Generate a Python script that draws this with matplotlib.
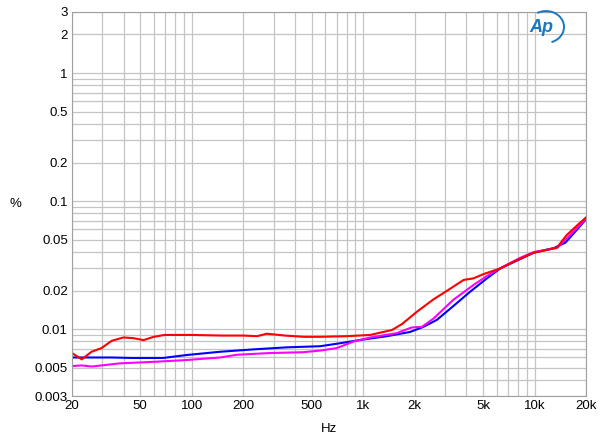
import matplotlib.pyplot as plt
from matplotlib.patches import Arc

plt.rcParams['font.family'] = ['Liberation Sans', 'DejaVu Sans']

# Red trace
red_hz = [20, 22.8, 26, 29.7, 34.1, 39.9, 45.5, 52.3, 59.9, 69.4, 100, 150, 200, 240, 274, 350, 450, 562,
          800, 1098, 1472, 1684, 2060, 2575, 3080, 3854, 4400, 5040, 6320, 7900, 9880, 11800, 13500,
          15400, 17600, 20000]
red_pct = [0.0065, 0.0058, 0.00665, 0.0071, 0.0081, 0.0086, 0.0085, 0.0082, 0.0087, 0.0090, 0.0090,
           0.0089, 0.0089, 0.0088, 0.0092, 0.0089, 0.0087, 0.0087,
           0.0088, 0.0090, 0.00984, 0.01095, 0.01368, 0.0171, 0.0199, 0.0242, 0.0249, 0.0269, 0.0298,
           0.0346, 0.0395, 0.0415, 0.0433, 0.0543, 0.0641, 0.0747]

# Blue trace
blue_hz = [20, 34, 45, 68, 93, 146, 228, 358, 562, 732, 960, 1374, 1880, 2240, 2690, 3350, 4210, 5270,
           6320, 9880, 13000, 15100, 17600, 20000]
blue_pct = [0.0060, 0.0060, 0.00595, 0.00595, 0.00627, 0.00665, 0.00694, 0.0072, 0.00735, 0.00775,
            0.00822, 0.0088, 0.0095, 0.0104, 0.0118, 0.0151, 0.0196, 0.0249, 0.0298, 0.0395, 0.043,
            0.0473, 0.0594, 0.0724]

# Magenta trace
mag_hz = [20, 22.8, 26, 29.7, 38, 60, 93, 146, 183, 284, 448, 562, 700, 880, 1098, 1570, 1920, 2200,
          2575, 3350, 4400, 5270, 6320, 8240, 9880, 13500, 15400, 17600, 20000]
mag_pct = [0.00514, 0.0052, 0.0051, 0.0052, 0.0054, 0.00555, 0.00573, 0.0060, 0.0063, 0.0065, 0.0066,
           0.0068, 0.0071, 0.0080, 0.0086, 0.0093, 0.0103, 0.0104, 0.0121, 0.0169, 0.0221, 0.026, 0.030,
           0.036, 0.040, 0.043, 0.051, 0.0612, 0.073]

x_ticks = [20, 50, 100, 200, 500, 1000, 2000, 5000, 10000, 20000]
x_labels = ['20', '50', '100', '200', '500', '1k', '2k', '5k', '10k', '20k']
y_ticks = [0.003, 0.005, 0.01, 0.02, 0.05, 0.1, 0.2, 0.5, 1, 2, 3]
y_labels = ['0.003', '0.005', '0.01', '0.02', '0.05', '0.1', '0.2', '0.5', '1', '2', '3']

fig = plt.figure(figsize=(6, 4.42), dpi=100)
ax = fig.add_axes([0.12, 0.104, 0.857, 0.869])

ax.plot(blue_hz, blue_pct, color='#0000ff', linewidth=1.5)
ax.plot(mag_hz, mag_pct, color='#ff00ff', linewidth=1.5)
ax.plot(red_hz, red_pct, color='#ff0000', linewidth=1.5)

ax.set_xscale('log')
ax.set_yscale('log')
ax.set_xlim(20, 20000)
ax.set_ylim(0.003, 3)
ax.set_xticks(x_ticks)
ax.set_xticklabels(x_labels)
ax.set_yticks(y_ticks)
ax.set_yticklabels(y_labels)
ax.minorticks_on()
ax.tick_params(which='both', length=0, labelsize=9.5)
ax.tick_params(axis='x', pad=3)
ax.tick_params(axis='y', pad=3)
ax.xaxis.set_minor_formatter(plt.NullFormatter())
ax.yaxis.set_minor_formatter(plt.NullFormatter())
ax.grid(which='both', color='#c4c4c4', linewidth=0.9)
ax.set_axisbelow(True)
for s in ax.spines.values():
    s.set_color('#a0a0a0')

ax.set_xlabel('Hz', fontsize=9.5, labelpad=8)
fig.text(0.025, 0.538, '%', fontsize=9.5, ha='center', va='center')

# Ap logo
fig.text(0.903, 0.937, 'Ap', fontsize=13, style='italic', weight='bold', color='#1a78c2',
         ha='center', va='center')
fig.patches.append(Arc((0.91, 0.939), 0.06, 0.072, theta1=-75, theta2=115, color='#1a78c2',
                       linewidth=1.4, transform=fig.transFigure))

fig.savefig('out.png', dpi=100)
